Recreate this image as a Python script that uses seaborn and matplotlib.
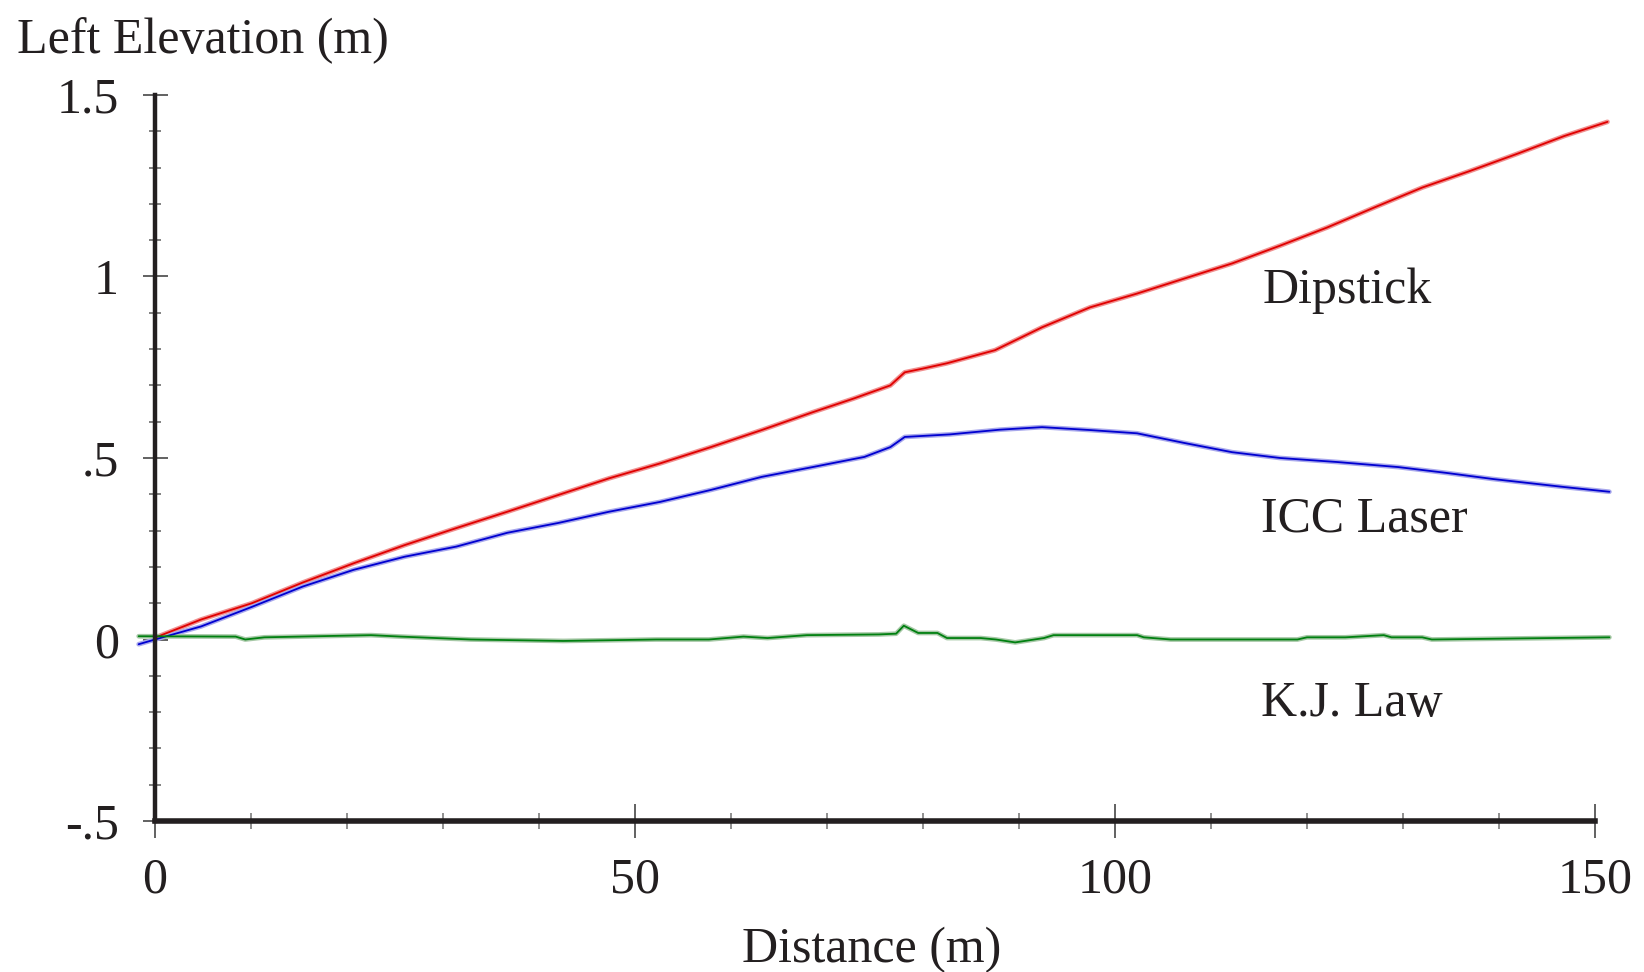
import numpy as np
import pandas as pd
import matplotlib
matplotlib.use("Agg")
import matplotlib.pyplot as plt
from matplotlib.ticker import MultipleLocator, FixedLocator, FixedFormatter
import seaborn as sns

# ---------------- data ----------------
dip_x = [0.0, 4.8, 10.1, 15.4, 20.7, 26.0, 31.4, 36.7, 42.0, 47.3, 52.6, 57.9,
         63.2, 68.5, 72.8, 76.6, 78.1, 80.1, 82.5, 87.5, 92.4, 97.4, 102.3,
         107.3, 112.2, 117.2, 122.1, 127.0, 132.0, 136.9, 141.9, 146.8, 151.3]
dip_y = [0.005, 0.055, 0.100, 0.157, 0.210, 0.260, 0.307, 0.352, 0.398, 0.444,
         0.485, 0.530, 0.577, 0.626, 0.664, 0.700, 0.736, 0.747, 0.761, 0.797,
         0.860, 0.915, 0.953, 0.995, 1.036, 1.085, 1.135, 1.190, 1.245, 1.290,
         1.338, 1.387, 1.426]

icc_x = [-1.7, 0.0, 4.8, 10.1, 15.4, 20.7, 26.0, 31.4, 36.7, 42.0, 47.3, 52.6,
         57.9, 63.2, 68.5, 73.9, 76.6, 78.1, 82.8, 88.0, 92.4, 97.4, 102.3,
         107.3, 112.2, 117.2, 123.1, 129.5, 134.5, 139.4, 146.8, 151.5]
icc_y = [-0.013, 0.0, 0.036, 0.090, 0.146, 0.192, 0.228, 0.256, 0.294, 0.321,
         0.352, 0.379, 0.412, 0.448, 0.475, 0.503, 0.530, 0.558, 0.565, 0.578,
         0.585, 0.577, 0.568, 0.541, 0.516, 0.500, 0.489, 0.475, 0.459, 0.442,
         0.420, 0.407]

kj_x = [-1.7, 8.4, 9.4, 11.4, 22.5, 25.6, 32.9, 42.5, 52.2, 57.7, 61.3, 63.8,
        67.9, 75.4, 77.2, 78.0, 79.5, 81.5, 82.5, 86.0, 87.6, 89.6, 92.6, 93.6,
        102.3, 103.0, 105.8, 119.0, 120.0, 124.0, 128.0, 128.8, 132.0, 133.0,
        151.5]
kj_y = [0.009, 0.008, 0.000, 0.006, 0.012, 0.008, 0.000, -0.004, 0.000, 0.000,
        0.008, 0.004, 0.012, 0.014, 0.016, 0.038, 0.018, 0.018, 0.004, 0.004,
        0.000, -0.008, 0.004, 0.012, 0.012, 0.006, 0.000, 0.000, 0.006, 0.006,
        0.012, 0.006, 0.006, 0.000, 0.006]

x_major = [0, 50, 100, 150]
x_labels = ["0", "50", "100", "150"]
y_major = [-0.5, 0.0, 0.5, 1.0, 1.5]
y_labels = ["-.5", "0", ".5", "1", "1.5"]
series_names = ["Dipstick", "ICC Laser", "K.J. Law"]

# ---------------- style ----------------
sns.set_theme(style="white")
plt.rcParams["font.family"] = ["Liberation Serif", "DejaVu Serif"]
FS = 36
INK = "#231f20"

fig = plt.figure(figsize=(16.44, 9.72), dpi=100)
ax = fig.add_axes([155 / 1644, 1 - 821 / 972, (1595 - 155) / 1644, (821 - 95) / 972])

series = [
    (dip_x, dip_y, "#e00000", "#f09090"),
    (icc_x, icc_y, "#0000d0", "#a8a8ec"),
    (kj_x, kj_y, "#008010", "#a6c8a6"),
]
for xs, ys, dark, light in series:
    df = pd.DataFrame({"d": xs, "e": ys})
    sns.lineplot(data=df, x="d", y="e", ax=ax, color=light, lw=3.4,
                 estimator=None, sort=False, clip_on=False, zorder=2)
    sns.lineplot(data=df, x="d", y="e", ax=ax, color=dark, lw=1.3,
                 estimator=None, sort=False, clip_on=False, zorder=3)

ax.set_xlim(0, 150)
ax.set_ylim(-0.5, 1.5)

ax.xaxis.set_major_locator(FixedLocator(x_major))
ax.xaxis.set_major_formatter(FixedFormatter(x_labels))
ax.xaxis.set_minor_locator(MultipleLocator(10))
ax.yaxis.set_major_locator(FixedLocator(y_major))
ax.yaxis.set_major_formatter(FixedFormatter(y_labels))
ax.yaxis.set_minor_locator(MultipleLocator(0.1))

ax.tick_params(axis="x", which="major", direction="inout", length=24, width=1.3,
               color="#555555", pad=14, labelsize=FS, labelcolor=INK)
ax.tick_params(axis="x", which="minor", direction="inout", length=12, width=1.3,
               color="#888888")
ax.tick_params(axis="y", which="major", direction="inout", length=18, width=1.3,
               color="#555555", pad=17, labelsize=FS, labelcolor=INK)
ax.tick_params(axis="y", which="minor", direction="inout", length=9, width=1.3,
               color="#777777")
ax.tick_params(left=True, bottom=True, which="both")

for s in ["top", "right"]:
    ax.spines[s].set_visible(False)
ax.spines["left"].set_color(INK)
ax.spines["left"].set_linewidth(3.2)
ax.spines["bottom"].set_color(INK)
ax.spines["bottom"].set_linewidth(4.0)
for s in ["left", "bottom"]:
    ax.spines[s].set_zorder(4)

ax.set_xlabel("")
ax.set_ylabel("")
ax.grid(False)

# series labels
ax.text(115.4, 0.926, series_names[0], fontsize=FS, color=INK, ha="left", va="baseline")
ax.text(115.2, 0.297, series_names[1], fontsize=FS, color=INK, ha="left", va="baseline")
ax.text(115.2, -0.212, series_names[2], fontsize=FS, color=INK, ha="left", va="baseline")

fig.text(17 / 1644, 1 - 53 / 972, "Left Elevation (m)", fontsize=FS, color=INK,
         ha="left", va="baseline")
fig.text(872 / 1644, 1 - 962 / 972, "Distance (m)", fontsize=FS, color=INK,
         ha="center", va="baseline")

fig.savefig("out.png", dpi=100, facecolor="white")
